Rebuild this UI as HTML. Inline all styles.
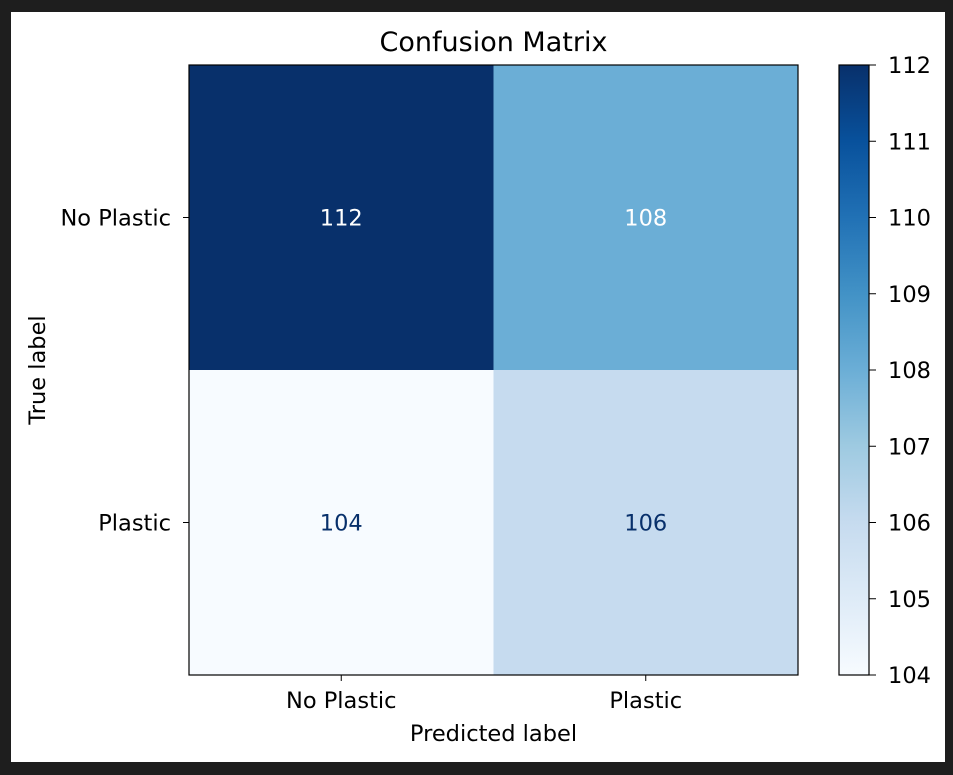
<!DOCTYPE html>
<html><head><meta charset="utf-8"><style>
html,body{margin:0;padding:0;background:#1e1e1e;width:953px;height:775px;overflow:hidden}
svg{display:block;font-family:"DejaVu Sans","Liberation Sans",sans-serif}
</style></head><body>
<svg id="chart" width="953" height="775">
<defs><linearGradient id="cbg" x1="0" y1="1" x2="0" y2="0">
<stop offset="0" stop-color="#f7fbff"/><stop offset="0.125" stop-color="#deebf7"/><stop offset="0.25" stop-color="#c6dbef"/><stop offset="0.375" stop-color="#9ecae1"/><stop offset="0.5" stop-color="#6baed6"/><stop offset="0.625" stop-color="#4292c6"/><stop offset="0.75" stop-color="#2171b5"/><stop offset="0.875" stop-color="#08519c"/><stop offset="1" stop-color="#08306b"/></linearGradient></defs>
<rect x="11" y="12" width="934" height="750" fill="#fff"/>
<g id="cells"></g>
<g id="axes"></g>
</svg>
<script>
const categories = ["No Plastic", "Plastic"];
const rowNoPlastic = [112, 108];
const rowPlastic = [104, 106];
const cbTicks = [104,105,106,107,108,109,110,111,112];
const vmin = 104, vmax = 112;
const matrix = [rowNoPlastic, rowPlastic];
const NS = "http://www.w3.org/2000/svg";
const L=189, T=65, R=798, B=675;
const FS=22.5;
const cw=(R-L)/categories.length, ch=(B-T)/categories.length;
const stops=[[0,[247,251,255]],[0.125,[222,235,247]],[0.25,[198,219,239]],[0.375,[158,202,225]],[0.5,[107,174,214]],[0.625,[66,146,198]],[0.75,[33,113,181]],[0.875,[8,81,156]],[1,[8,48,107]]];
function cmap(v){let t=Math.max(0,Math.min(1,(v-vmin)/(vmax-vmin)));for(let i=1;i<stops.length;i++){if(t<=stops[i][0]){const a=stops[i-1],b=stops[i];const f=(t-a[0])/(b[0]-a[0]);const c=a[1].map((x,k)=>Math.round(x+(b[1][k]-x)*f));return `rgb(${c.join(',')})`;}}return "rgb(8,48,107)";}
function mk(tag,attrs,parent,text){const e=document.createElementNS(NS,tag);for(const k in attrs)e.setAttribute(k,attrs[k]);if(text!==undefined)e.textContent=text;parent.appendChild(e);return e;}
const cells=document.getElementById('cells'), axes=document.getElementById('axes');
const thresh=(vmin+vmax)/2;
matrix.forEach((row,i)=>row.forEach((v,j)=>{
 const r=mk('rect',{x:L+j*cw,y:T+i*ch,width:cw+0.5,height:ch+0.5,fill:cmap(v)},cells);
 
 
 const t=mk('text',{x:L+(j+0.5)*cw,y:T+(i+0.5)*ch+8,'text-anchor':'middle','font-size':FS,fill:v>=thresh?'#ffffff':'#08306b'},cells,String(v));
 
 
}));
const frame=mk('rect',{x:L,y:T,width:R-L,height:B-T,fill:'none',stroke:'#000','stroke-width':1.2},axes);


categories.forEach((c,i)=>{
 const y=T+(i+0.5)*ch;
 mk('line',{x1:L-6,x2:L,y1:y,y2:y,stroke:'#000'},axes);
 const yl=mk('text',{x:L-18,y:y+8,'text-anchor':'end','font-size':FS,fill:'#000'},axes,c);
 
 
 const x=L+(i+0.5)*cw;
 mk('line',{x1:x,x2:x,y1:B,y2:B+6,stroke:'#000'},axes);
 const xl=mk('text',{x:x,y:B+33,'text-anchor':'middle','font-size':FS,fill:'#000'},axes,c);
 
 
});
const title=mk('text',{x:(L+R)/2,y:51,'text-anchor':'middle','font-size':'27',fill:'#000'},axes,'Confusion Matrix');


const xt=mk('text',{x:(L+R)/2,y:741,'text-anchor':'middle','font-size':FS,fill:'#000'},axes,'Predicted label');


const yt=mk('text',{x:0,y:0,'text-anchor':'middle','font-size':FS,fill:'#000',transform:`translate(45,${(T+B)/2}) rotate(-90)`},axes,'True label');


const CL=839, CR=869;
const cb=mk('rect',{x:CL,y:T,width:CR-CL,height:B-T,fill:'url(#cbg)',stroke:'#000','stroke-width':1.2},axes);


cbTicks.forEach(v=>{
 const y=B-(v-vmin)/(vmax-vmin)*(B-T);
 mk('line',{x1:CR,x2:CR+7,y1:y,y2:y,stroke:'#000'},axes);
 const t=mk('text',{x:CR+19,y:y+8,'font-size':FS,fill:'#000'},axes,String(v));
 
 
});
</script>
</body></html>
